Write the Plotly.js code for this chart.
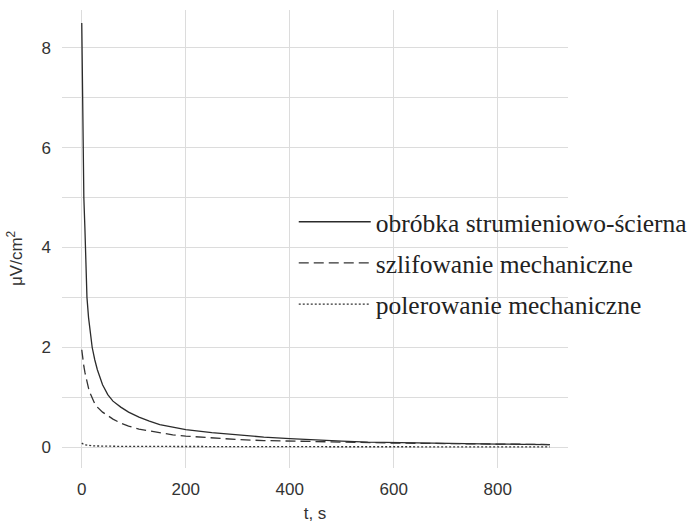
<!DOCTYPE html>
<html>
<head>
<meta charset="utf-8">
<script src="https://cdn.plot.ly/plotly-3.0.1.min.js"></script>
<style>html,body{margin:0;padding:0;background:#fff;}#chart{width:692px;height:524px;}</style>
</head>
<body>
<div id="chart"></div>
<script>
const seriesNames = ["obróbka strumieniowo-ścierna", "szlifowanie mechaniczne", "polerowanie mechaniczne"];
const t = [0,1,2,3,4,6,8,10,13,16,20,25,30,40,50,60,75,90,110,130,150,175,200,250,300,350,400,450,500,550,600,650,700,750,800,850,900];
const abrasive = [8.5,7.2,6.4,5.9,5.0,4.4,3.6,3.0,2.6,2.3,2.0,1.75,1.55,1.25,1.05,0.92,0.8,0.7,0.6,0.52,0.45,0.4,0.35,0.29,0.24,0.2,0.17,0.14,0.12,0.1,0.09,0.08,0.07,0.065,0.06,0.055,0.05];
const grinding = [1.95,1.85,1.78,1.7,1.62,1.5,1.4,1.3,1.18,1.08,0.97,0.87,0.8,0.7,0.63,0.56,0.48,0.42,0.36,0.32,0.28,0.245,0.22,0.18,0.15,0.13,0.12,0.1,0.09,0.085,0.08,0.075,0.07,0.065,0.06,0.055,0.05];
const polishing = [0.08,0.07,0.06,0.055,0.05,0.045,0.04,0.035,0.03,0.028,0.025,0.022,0.02,0.018,0.016,0.015,0.014,0.013,0.012,0.011,0.01,0.01,0.01,0.009,0.008,0.008,0.007,0.007,0.006,0.006,0.005,0.005,0.005,0.005,0.004,0.004,0.004];
const xTicks = [0,200,400,600,800];
const yTicks = [0,2,4,6,8];
const yTitle = "μV/cm<sup>2</sup>";

const traces = [
  {x: t, y: abrasive, name: seriesNames[0], mode: "lines", legendgroup: "a", line: {color: "#2b2b2b", width: 1.3, dash: "solid"}},
  {x: t, y: grinding, name: seriesNames[1], mode: "lines", legendgroup: "b", line: {color: "#333", width: 1.3, dash: "10px,5px"}},
  {x: t, y: polishing, name: seriesNames[2], mode: "lines", legendgroup: "c", line: {color: "#333", width: 1.3, dash: "2px,2px"}}
];
const layout = {
  width: 692, height: 524,
  margin: {l: 62, r: 124, t: 10, b: 56, autoexpand: false},
  paper_bgcolor: "#fff", plot_bgcolor: "#fff",
  font: {family: "Liberation Sans, Arial, sans-serif", color: "#333", size: 17},
  showlegend: true,
  legend: {x: 0.458, y: 0.588, xanchor: "left", yanchor: "top", bgcolor: "rgba(0,0,0,0)",
    font: {family: "Liberation Serif, Times New Roman, serif", size: 25.5, color: "#222"},
    tracegroupgap: 5, itemwidth: 72},
  xaxis: {range: [-38, 935], tickvals: xTicks, showgrid: true, gridcolor: "#dcdcdc", gridwidth: 1,
    zeroline: false, showline: false, ticks: "", ticklabelstandoff: 9,
    title: {text: "t, s", font: {size: 17}, standoff: 9}},
  yaxis: {range: [-0.42, 8.76], tickvals: yTicks, showgrid: true, gridcolor: "#dcdcdc", gridwidth: 1,
    minor: {dtick: 1, showgrid: true, gridcolor: "#dcdcdc", gridwidth: 1},
    zeroline: false, showline: false, ticks: "", ticklabelstandoff: 10},
  annotations: [{text: yTitle, xref: "paper", yref: "paper", x: -0.093, y: 0.4585,
    xanchor: "center", yanchor: "middle", textangle: -90, showarrow: false,
    font: {size: 17, color: "#333"}}]
};
Plotly.newPlot("chart", traces, layout, {displayModeBar: false, staticPlot: true});
</script>
</body>
</html>
